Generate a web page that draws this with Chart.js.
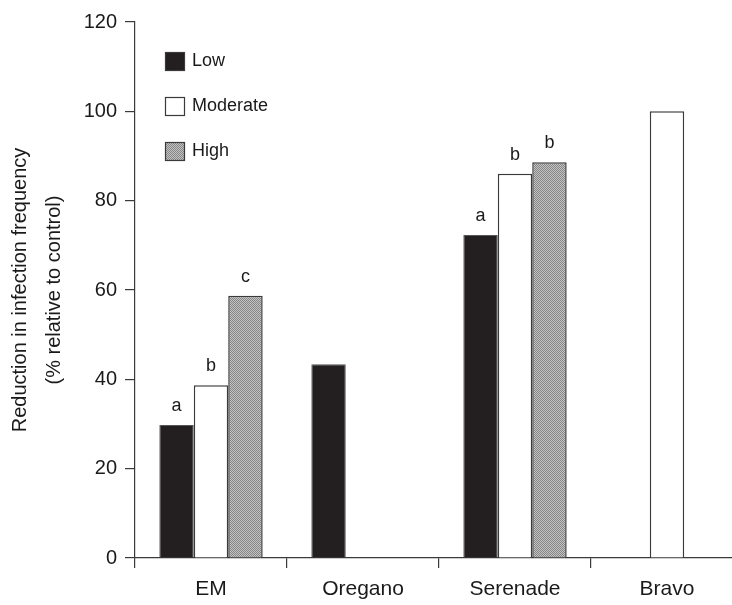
<!DOCTYPE html>
<html>
<head>
<meta charset="utf-8">
<script src="https://cdn.jsdelivr.net/npm/chart.js@4/dist/chart.umd.min.js"></script>
<style>
  html, body { margin: 0; padding: 0; background: #fff; overflow: hidden; }
  #wrap { width: 760px; height: 605px; }
</style>
</head>
<body>
<div id="wrap"><canvas id="chart" width="760" height="605"></canvas></div>
<script>
const categories = ['EM', 'Oregano', 'Serenade', 'Bravo'];
const seriesNames = ['Low', 'Moderate', 'High'];
const lowValues = [29.8, 43.4, 72.3, null];
const moderateValues = [38.7, null, 86.0, 100.0];
const highValues = [58.7, null, 88.6, null];
const lowLetters = ['a', '', 'a', ''];
const moderateLetters = ['b', '', 'b', ''];
const highLetters = ['c', '', 'b', ''];
const yTicks = [0, 20, 40, 60, 80, 100, 120];

const FONT = 'Liberation Sans, Arial, Helvetica, sans-serif';
const TEXT = '#1a1a1a';
const EDGE = '#3a3a3a';

// fine gray stipple for the "High" bars
function stipple() {
    const c = document.createElement('canvas');
    c.width = 2; c.height = 2;
    const g = c.getContext('2d');
    g.fillStyle = '#c4c4c4'; g.fillRect(0, 0, 2, 2);
    g.fillStyle = '#858585'; g.fillRect(0, 0, 1, 1); g.fillRect(1, 1, 1, 1);
    return g.createPattern(c, 'repeat');
}

const letterSets = [lowLetters, moderateLetters, highLetters];

const barLetters = {
    id: 'barLetters',
    afterDatasetsDraw(chart) {
        const ctx = chart.ctx;
        ctx.save();
        ctx.font = '18px ' + FONT;
        ctx.fillStyle = TEXT;
        ctx.textAlign = 'center';
        ctx.textBaseline = 'alphabetic';
        chart.data.datasets.forEach((ds, d) => {
            chart.getDatasetMeta(d).data.forEach((bar, i) => {
                const t = letterSets[d][i];
                if (t && ds.data[i] != null) ctx.fillText(t, bar.x, bar.y - 14);
            });
        });
        ctx.restore();
    }
};

const insideLegend = {
    id: 'insideLegend',
    afterDraw(chart) {
        const ctx = chart.ctx;
        ctx.save();
        ctx.font = '18px ' + FONT;
        ctx.textBaseline = 'middle';
        ctx.textAlign = 'left';
        chart.data.datasets.forEach((ds, d) => {
            const y = 52 + d * 45;
            ctx.fillStyle = ds.backgroundColor;
            ctx.fillRect(165, y, 19, 18);
            ctx.strokeStyle = EDGE;
            ctx.lineWidth = 1.2;
            ctx.strokeRect(165.5, y + 0.5, 19, 18);
            ctx.fillStyle = TEXT;
            ctx.fillText(ds.label, 192, y + 9.5);
        });
        ctx.restore();
    }
};

const ctx = document.getElementById('chart').getContext('2d');
new Chart(ctx, {
    type: 'bar',
    data: {
        labels: categories,
        datasets: [
            { label: seriesNames[0], data: lowValues, backgroundColor: '#231f20', borderColor: '#555', borderWidth: 1 },
            { label: seriesNames[1], data: moderateValues, backgroundColor: '#ffffff', borderColor: EDGE, borderWidth: 1.5 },
            { label: seriesNames[2], data: highValues, backgroundColor: stipple(), borderColor: EDGE, borderWidth: 1.5 }
        ]
    },
    options: {
        responsive: false,
        animation: false,
        datasets: { bar: { categoryPercentage: 0.68, barPercentage: 1.0 } },
        layout: { padding: { left: 0, right: 17, top: 22, bottom: 0 } },
        plugins: { legend: { display: false }, tooltip: { enabled: false } },
        scales: {
            x: {
                offset: true,
                grid: { offset: true, drawOnChartArea: false, tickLength: 10, color: EDGE, lineWidth: 1.2 },
                border: { color: EDGE, width: 1.2 },
                ticks: { color: TEXT, font: { family: FONT, size: 21 }, padding: 9, maxRotation: 0 },
                afterFit: s => { s.height = 47; }
            },
            y: {
                min: 0, max: 120,
                afterBuildTicks: s => { s.ticks = yTicks.map(v => ({ value: v })); },
                grid: { drawOnChartArea: false, tickLength: 10, color: EDGE, lineWidth: 1.2 },
                border: { color: EDGE, width: 1.2 },
                ticks: { color: TEXT, font: { family: FONT, size: 20 }, padding: 8 },
                title: {
                    display: true,
                    text: ['Reduction in infection frequency', '(% relative to control)'],
                    color: TEXT,
                    font: { family: FONT, size: 20, lineHeight: 1.7 },
                    padding: { top: 3, bottom: 0 }
                },
                afterFit: s => { s.width = 135; }
            }
        }
    },
    plugins: [barLetters, insideLegend]
});
</script>
</body>
</html>
